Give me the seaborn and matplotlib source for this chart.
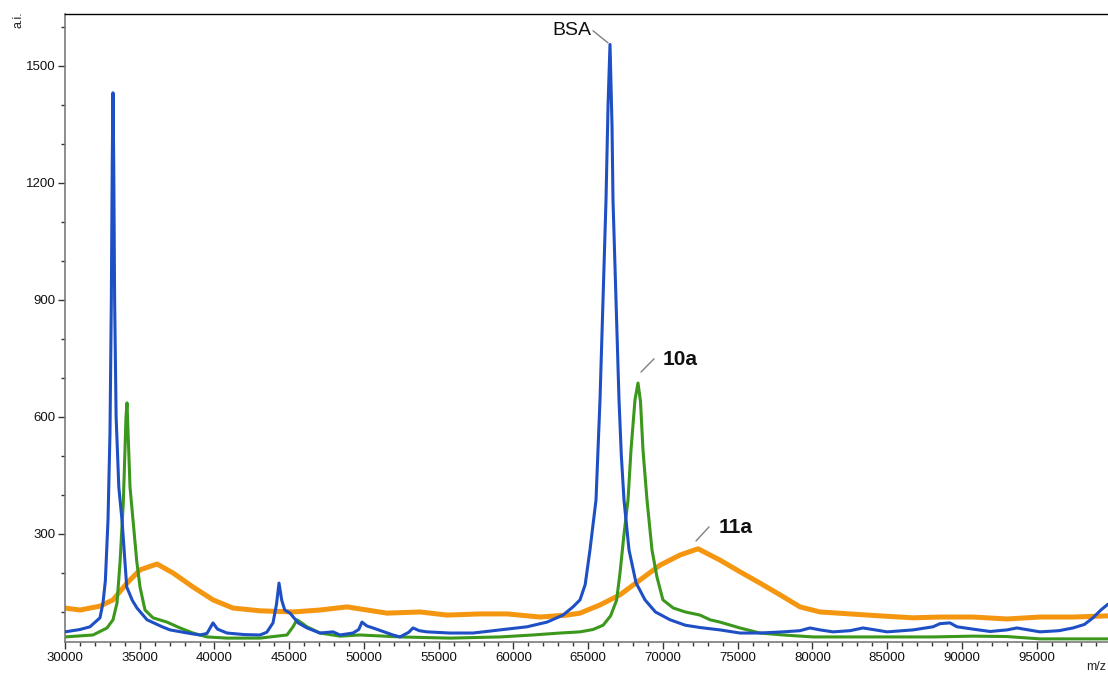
import numpy as np
import pandas as pd
import matplotlib
matplotlib.use("Agg")
import matplotlib.pyplot as plt
import seaborn as sns

# ---- data ----
blue_mz = [30000, 31000, 31670, 32340, 32540, 32700, 32877, 33010, 33100, 33160, 33211,
           33260, 33320, 33420, 33600, 33813, 34130, 34500, 34817, 35486, 36500, 37025,
           38500, 39032, 39500, 39901, 40200, 40838, 42000, 43046, 43500, 43915, 44150,
           44317, 44500, 44700, 45053, 45600, 46190, 47060, 47929, 48398, 49267, 49650,
           49869, 50200, 50605, 51942, 52412, 53000, 53281, 53700, 54218, 55757, 57295,
           59102, 60908, 62246, 63316, 63985, 64454, 64800, 65121, 65524, 65792, 65993,
           66193, 66330, 66461, 66594, 66661, 66862, 67063, 67220, 67397, 67732, 68200,
           68802, 69500, 70475, 71500, 72500, 73819, 75158, 76496, 78034, 79172, 79841,
           80510, 81379, 82517, 83386, 84524, 84992, 86731, 88069, 88537, 89200, 89675,
           90745, 91883, 93020, 93689, 95228, 96500, 97435, 98200, 98773, 99300, 99777]
blue_int = [49, 55, 62, 85, 123, 180, 336, 560, 900, 1250, 1431,
            1250, 900, 600, 420, 336, 164, 130, 110, 80, 62, 54,
            44, 41, 45, 72, 56, 46, 42, 41, 48, 72, 120,
            174, 130, 105, 97, 72, 59, 46, 49, 41, 46, 55,
            74, 64, 59, 41, 36, 48, 59, 52, 49, 46, 46,
            54, 62, 74, 92, 113, 131, 170, 259, 387, 644, 900,
            1156, 1400, 1555, 1350, 1156, 900, 644, 500, 387, 259, 175,
            131, 100, 80, 66, 60, 54, 46, 46, 49, 52, 59,
            54, 49, 52, 59, 52, 49, 54, 62, 70, 72, 62,
            56, 50, 54, 59, 49, 52, 59, 68, 85, 105, 120]

green_mz = [30000, 31873, 32810, 33211, 33479, 33680, 33900, 34000, 34080, 34148, 34220,
            34350, 34549, 34800, 35018, 35352, 35887, 36824, 37694, 38563, 39500, 40838,
            43046, 44852, 45253, 45520, 45900, 46190, 47060, 48398, 49736, 52412, 55757,
            59102, 61309, 63116, 64454, 65323, 66000, 66500, 66900, 67130, 67400, 67665,
            67865, 68133, 68334, 68500, 68668, 68936, 69270, 69600, 70000, 70700, 71500,
            72482, 73150, 73819, 75158, 76496, 78034, 80041, 83654, 88069, 90745, 93020,
            95228, 97435, 99777]
green_int = [36, 41, 59, 80, 123, 226, 380, 500, 600, 636, 560,
             420, 336, 230, 164, 105, 85, 74, 59, 46, 36, 33,
             33, 41, 62, 80, 70, 62, 46, 38, 41, 36, 33,
             36, 41, 46, 49, 55, 66, 90, 130, 200, 300, 387,
             515, 644, 687, 640, 515, 387, 259, 190, 131, 110, 100,
             92, 80, 74, 59, 46, 41, 36, 36, 36, 38, 37,
             31, 31, 31]

orange_mz = [30000, 31004, 32342, 33211, 34148, 35018, 36155, 37226, 38563, 39901, 41239,
             43046, 45253, 47060, 48866, 50204, 51542, 53750, 55556, 57764, 59570, 61778,
             63584, 64454, 65792, 67130, 68468, 69806, 71144, 72348, 73819, 75158, 76496,
             77834, 79172, 80510, 82517, 84524, 86731, 88537, 90745, 93020, 95228, 97435,
             99777]
orange_int = [110, 105, 115, 131, 174, 208, 223, 200, 164, 131, 110,
              103, 100, 105, 113, 105, 97, 100, 92, 95, 95, 87,
              92, 97, 118, 144, 182, 220, 246, 262, 233, 203, 174,
              144, 113, 100, 95, 90, 85, 87, 87, 82, 87, 87,
              90]

y_ticks = [300, 600, 900, 1200, 1500]
x_ticks = list(range(30000, 100000, 5000))

# ---- style ----
sns.set_style("white")
plt.rcParams["font.family"] = ["Liberation Sans", "DejaVu Sans"]

fig = plt.figure(figsize=(11.08, 6.75), dpi=100)
ax = fig.add_axes([65 / 1108, 33 / 675, 1 - 65 / 1108, (642 - 14) / 675])

c_blue = "#1e4fc4"
c_green = "#3b981c"
c_orange = "#f4960f"

sns.lineplot(x=orange_mz, y=orange_int, ax=ax, color=c_orange, linewidth=3.6,
             estimator=None, sort=False, zorder=1)
sns.lineplot(x=green_mz, y=green_int, ax=ax, color=c_green, linewidth=2.2,
             estimator=None, sort=False, zorder=2)
sns.lineplot(x=blue_mz, y=blue_int, ax=ax, color=c_blue, linewidth=2.2,
             estimator=None, sort=False, zorder=3)

ax.set_xlim(30000, 99777)
ax.set_ylim(23, 1633)
ax.set_xticks(x_ticks)
ax.set_xticklabels([str(t) for t in x_ticks])
ax.set_yticks(y_ticks)
ax.set_yticklabels([str(t) for t in y_ticks])
ax.set_xticks(range(30000, 100000, 1000), minor=True)
ax.set_yticks(range(100, 1700, 100), minor=True)
ax.tick_params(axis="both", which="major", direction="out", length=5, width=1,
               color="#333333", labelsize=9.5, labelcolor="#111111", pad=2)
ax.tick_params(axis="both", which="minor", direction="out", length=3, width=1,
               color="#333333")
ax.tick_params(axis="y", which="both", left=True)
ax.tick_params(axis="x", which="both", bottom=True)
ax.set_xlabel("")
ax.set_ylabel("")

for s in ["left", "bottom"]:
    ax.spines[s].set_color("#7a7a7a")
    ax.spines[s].set_linewidth(1.2)
ax.spines["top"].set_color("#000000")
ax.spines["top"].set_linewidth(1.0)
ax.spines["right"].set_visible(False)

# axis unit labels
fig.text(18 / 1108, 1 - 20 / 675, "a.i.", rotation=90, fontsize=9,
         ha="center", va="center", color="#222222")
fig.text(1086 / 1108, 1 - 667 / 675, "m/z", fontsize=9, ha="left",
         va="center", color="#222222")

# annotations: leader lines and labels
line_kw = dict(arrowstyle="-", color="#808080", lw=1.0, shrinkA=0, shrinkB=0)
ax.annotate("", xy=(66327, 1559), xytext=(65323, 1590), arrowprops=line_kw)
ax.text(65200, 1590, "BSA", fontsize=14, ha="right", va="center", color="#111111")

ax.annotate("", xy=(68534, 715), xytext=(69404, 749), arrowprops=line_kw)
ax.text(70000, 748, "10a", fontsize=15, fontweight="bold", ha="left",
        va="center", color="#111111")

ax.annotate("", xy=(72214, 282), xytext=(73084, 318), arrowprops=line_kw)
ax.text(73700, 317, "11a", fontsize=15, fontweight="bold", ha="left",
        va="center", color="#111111")

fig.savefig("out.png", dpi=100)
